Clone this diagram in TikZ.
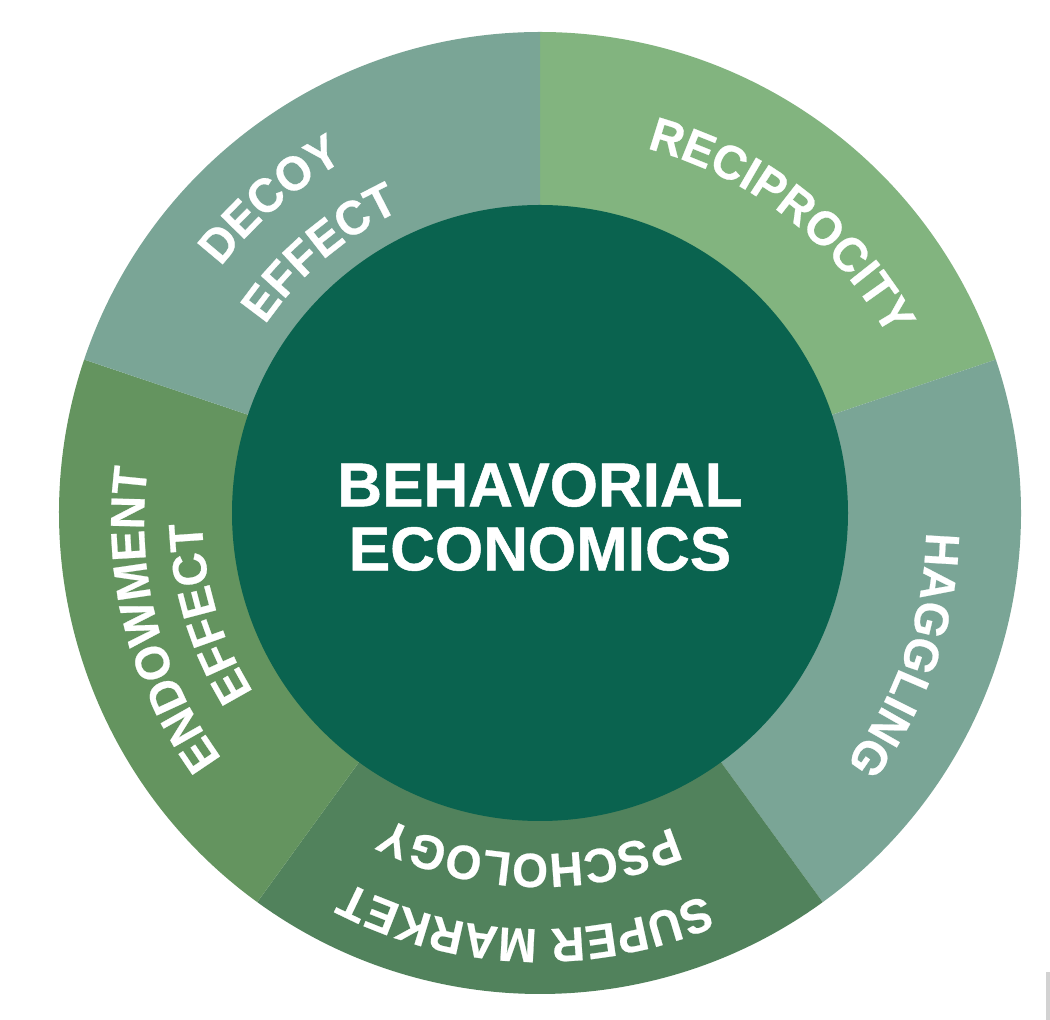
\documentclass[tikz,border=0pt]{standalone}
\usepackage{fontspec}
\setmainfont{Liberation Sans}
\newfontfamily\ringface[BoldFeatures={FakeStretch=0.96,FakeBold=0.5}]{Liberation Sans}
\newfontfamily\hubface[BoldFeatures={FakeBold=0.8}]{Liberation Sans}
\usetikzlibrary{decorations.text}
\definecolor{sage}{HTML}{7AA596}
\definecolor{leaf}{HTML}{82B47F}
\definecolor{moss}{HTML}{64945F}
\definecolor{fern}{HTML}{51825C}
\definecolor{pine}{HTML}{0A634F}
\definecolor{tabgrey}{HTML}{D2D2D2}
\newcommand\ringfont{\ringface\fontsize{48}{48}\selectfont\bfseries}
\newcommand\sector[3]{\fill[#3] ([shift={(C)}]#1:481pt) arc[start angle=#1, end angle=#2, radius=481pt] -- (C) -- cycle;}
\newcommand\curvedlabel[5]{\path[shift={(#3,#4)},decorate, decoration={text along path, text align=center, text color=white, text={|\ringfont|#5}}]
  ([shift={(C)}]#1+60:#2pt) arc[start angle=#1+60, end angle=#1-60, radius=#2pt];}
\begin{document}
\begin{tikzpicture}[x=1pt,y=1pt,
  hub/.style={circle,fill=pine,minimum size=616pt,inner sep=0pt},
  hubtext/.style={text=white,font=\hubface\fontsize{62}{64}\selectfont\bfseries,align=center,inner sep=0pt}]
\useasboundingbox (0,0) rectangle (1050,1020);
\fill[white] (0,0) rectangle (1050,1020);
\coordinate (C) at (540,507);
\sector{90}{18.6}{leaf}
\sector{18.6}{-54}{sage}
\sector{-54}{-126}{fern}
\sector{-126}{-198.6}{moss}
\sector{161.4}{90}{sage}
\node[hub] (hub) at (C) {};
\node[hubtext] (title1) at (540,535) {BEHAVORIAL};
\node[hubtext] (title2) at (540,471) {ECONOMICS};
\curvedlabel{52}{388}{8}{-10.8}{RECIPROCITY}
\curvedlabel{-19.2}{390}{-3.9}{-12.8}{HAGGLING}
\curvedlabel{-92.1}{416}{0}{0}{SUPER MARKET}
\curvedlabel{-91.8}{341}{0}{0}{PSCHOLOGY}
\curvedlabel{194.3}{402}{6.3}{-8.4}{ENDOWMENT}
\curvedlabel{196.8}{338}{0}{0}{EFFECT}
\curvedlabel{130.7}{403}{0}{0}{DECOY}
\curvedlabel{130.2}{333}{0}{0}{EFFECT}
\fill[tabgrey] (1046,0) rectangle (1050,48);
\end{tikzpicture}
\end{document}
